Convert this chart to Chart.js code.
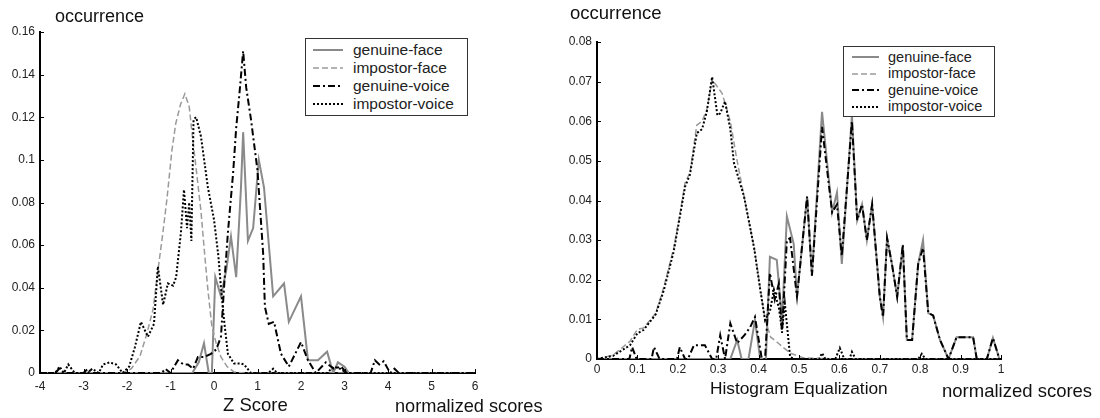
<!DOCTYPE html>
<html><head><meta charset="utf-8">
<script src="https://cdn.jsdelivr.net/npm/chart.js@4/dist/chart.umd.min.js"></script>
<style>
html,body{margin:0;padding:0;background:#fff;}
#wrap{position:relative;width:1100px;height:418px;overflow:hidden;font-family:"Liberation Sans",Arial,sans-serif;}
canvas{position:absolute;top:0;}
.lbl{position:absolute;white-space:nowrap;color:#111;line-height:1;}
.lbox{position:absolute;border:1px solid #333;background:#fff;box-sizing:border-box;}
.row{position:absolute;height:18px;display:flex;align-items:center;white-space:nowrap;color:#222;line-height:1;}
.smp{position:absolute;}
</style></head><body>
<div id="wrap">
<canvas id="c1" width="550" height="418" style="left:0"></canvas>
<canvas id="c2" width="550" height="418" style="left:550px"></canvas>
</div>
<script>
// ---------- data ----------
const seriesNames = ['genuine-face', 'impostor-face', 'genuine-voice', 'impostor-voice'];

// Z Score chart
const zGenFaceX = [-4,-0.5,-0.35,-0.23,-0.12,-0.05,0.03,0.16,0.28,0.39,0.51,0.62,0.67,0.78,0.9,1.03,1.15,1.36,1.61,1.72,2.0,2.16,2.39,2.6,2.74,2.85,3.0,3.1,6];
const zGenFaceY = [0,0,0.005,0.014,0,0,0.045,0.036,0.048,0.064,0.045,0.087,0.113,0.062,0.068,0.1,0.087,0.036,0.042,0.024,0.036,0.006,0.006,0.01,0,0.005,0.003,0,0];
const zImpFaceX = [-4,-2.1,-1.9,-1.7,-1.55,-1.4,-1.29,-1.18,-1.08,-0.97,-0.88,-0.77,-0.67,-0.57,-0.48,-0.4,-0.3,-0.22,-0.14,-0.05,0.05,0.16,0.3,0.46,0.7,6];
const zImpFaceY = [0,0,0.002,0.008,0.018,0.03,0.048,0.065,0.082,0.104,0.117,0.126,0.131,0.125,0.108,0.094,0.076,0.057,0.039,0.022,0.014,0.0075,0.003,0.0005,0,0];
const zGenVoiceX = [-4,-3.65,-3.56,-3.45,-3.0,-2.9,-2.8,-1.2,-1.12,-1.0,-0.83,-0.7,-0.6,-0.48,-0.37,-0.23,-0.07,0.05,0.16,0.23,0.32,0.44,0.51,0.58,0.67,0.74,0.85,1.0,1.13,1.17,1.26,1.38,1.54,1.72,2.0,2.16,2.34,2.57,2.75,2.92,3.05,3.6,3.7,3.8,3.9,4.05,4.15,4.25,6];
const zGenVoiceY = [0,0,0.002,0,0,0.002,0,0,0.002,0,0.006,0.004,0.004,0.002,0.0075,0.0075,0.009,0.011,0.017,0.04,0.066,0.094,0.115,0.13,0.151,0.134,0.119,0.095,0.056,0.031,0.023,0.024,0.009,0.003,0.0145,0.006,0,0.005,0.002,0.003,0,0,0.006,0.004,0.0055,0,0.002,0,0];
const zImpVoiceX = [-4,-3.65,-3.55,-3.45,-3.35,-3.2,-2.9,-2.8,-2.65,-2.55,-2.4,-2.25,-2.1,-1.95,-1.82,-1.68,-1.52,-1.38,-1.29,-1.17,-1.06,-0.94,-0.87,-0.76,-0.69,-0.62,-0.57,-0.52,-0.47,-0.41,-0.3,-0.14,0,0.1,0.16,0.23,0.32,0.46,0.6,0.69,0.85,1.25,1.36,1.45,2.6,2.75,2.9,3.05,6];
const zImpVoiceY = [0,0,0.003,0,0.004,0,0,0.002,0,0.004,0.005,0.004,0,0.003,0.012,0.024,0.017,0.023,0.05,0.032,0.042,0.041,0.045,0.066,0.086,0.068,0.08,0.062,0.119,0.12,0.111,0.087,0.072,0.055,0.04,0.025,0.009,0.0045,0.0045,0.004,0,0,0.002,0,0,0.003,0.002,0,0];
const zXTicks = [-4,-3,-2,-1,0,1,2,3,4,5,6];
const zXTickLabels = ['-4','-3','-2','-1','0','1','2','3','4','5','6'];
const zYTicks = [0,0.02,0.04,0.06,0.08,0.1,0.12,0.14,0.16];
const zYTickLabels = ['0','0.02','0.04','0.06','0.08','0.1','0.12','0.14','0.16'];

// Histogram Equalization chart
const hGenFaceX = [0,0.33,0.347,0.358,0.375,0.391,0.404,0.418,0.428,0.445,0.458,0.47,0.487,0.495,0.52,0.532,0.557,0.582,0.594,0.606,0.631,0.644,0.656,0.668,0.681,0.7,0.708,0.718,0.73,0.743,0.757,0.767,0.78,0.795,0.807,0.82,0.832,0.849,0.857,0.87,0.89,0.931,0.94,0.965,0.98,0.996,1];
const hGenFaceY = [0,0,0.0048,0,0,0.0098,0,0,0.0258,0.025,0.0098,0.036,0.029,0.0157,0.041,0.021,0.0624,0.037,0.042,0.024,0.0615,0.035,0.039,0.03,0.039,0.0157,0.0106,0.0305,0.024,0.0157,0.0288,0.0048,0.0048,0.024,0.03,0.0116,0.011,0.0048,0.003,0,0.0055,0.0055,0,0,0.0053,0,0];
const hImpFaceX = [0,0.04,0.082,0.1,0.115,0.145,0.165,0.19,0.206,0.218,0.23,0.247,0.26,0.272,0.285,0.31,0.33,0.345,0.364,0.389,0.404,0.416,0.43,0.445,0.46,0.478,0.51,0.6,1];
const hImpFaceY = [0,0.001,0.0045,0.0075,0.0078,0.0115,0.018,0.028,0.037,0.0445,0.047,0.059,0.06,0.063,0.0705,0.067,0.06,0.051,0.041,0.028,0.018,0.01,0.0055,0.0043,0.003,0.0015,0.0003,0,0];
const hGenVoiceX = [0,0.08,0.087,0.098,0.135,0.141,0.155,0.198,0.205,0.218,0.225,0.24,0.267,0.285,0.295,0.305,0.317,0.33,0.347,0.365,0.379,0.391,0.408,0.416,0.428,0.44,0.45,0.458,0.47,0.478,0.495,0.52,0.532,0.557,0.582,0.594,0.606,0.631,0.644,0.656,0.668,0.681,0.7,0.708,0.718,0.73,0.743,0.757,0.767,0.78,0.795,0.807,0.82,0.832,0.849,0.857,0.87,0.89,0.931,0.94,0.965,0.98,0.996,1];
const hGenVoiceY = [0,0,0.003,0,0,0.003,0,0,0.003,0,0,0.0035,0.0035,0,0,0.006,0,0.009,0.004,0.006,0.008,0.0106,0,0,0.0217,0.015,0.019,0.0066,0.03,0.0305,0.0157,0.041,0.021,0.0586,0.037,0.039,0.026,0.06,0.035,0.039,0.03,0.039,0.0157,0.0106,0.0305,0.024,0.0157,0.0288,0.0048,0.0048,0.024,0.028,0.0116,0.011,0.0048,0.003,0,0.0055,0.0055,0,0,0.0053,0,0];
const hImpVoiceX = [0,0.04,0.082,0.1,0.115,0.145,0.165,0.19,0.206,0.218,0.23,0.247,0.26,0.272,0.285,0.298,0.305,0.317,0.33,0.339,0.364,0.389,0.404,0.416,0.428,0.438,0.45,0.458,0.465,0.478,0.49,0.55,0.557,0.565,0.59,0.601,0.612,0.625,0.631,0.64,0.795,0.804,0.813,1];
const hImpVoiceY = [0,0.0008,0.0035,0.0065,0.0073,0.0112,0.0172,0.0272,0.0365,0.0435,0.0465,0.057,0.058,0.0625,0.0712,0.0615,0.062,0.065,0.058,0.0495,0.041,0.028,0.0175,0.0098,0.012,0.0175,0.013,0.0073,0.014,0.0005,0,0,0.0015,0,0,0.0028,0,0,0.0018,0,0,0.0013,0,0];
const hXTicks = [0,0.1,0.2,0.3,0.4,0.5,0.6,0.7,0.8,0.9,1];
const hXTickLabels = ['0','0.1','0.2','0.3','0.4','0.5','0.6','0.7','0.8','0.9','1'];
const hYTicks = [0,0.01,0.02,0.03,0.04,0.05,0.06,0.07,0.08];
const hYTickLabels = ['0','0.01','0.02','0.03','0.04','0.05','0.06','0.07','0.08'];

// ---------- styles ----------
const lineStyles = [
  {color:'#8a8a8a', width:2,   dash:[],          order:4},
  {color:'#9a9a9a', width:1.5, dash:[6,3],       order:3},
  {color:'#000000', width:2,   dash:[7,3,2,3],   order:2},
  {color:'#000000', width:2,   dash:[2,2],       order:1}
];
const FONT = '"Liberation Sans", Arial, sans-serif';

function pts(xs, ys){ return xs.map((x,i)=>({x:x, y:ys[i]})); }

const inwardTicks = {
  id:'inwardTicks',
  afterDraw(chart){
    const ctx = chart.ctx, xs = chart.scales.x, ys = chart.scales.y, a = chart.chartArea;
    ctx.save(); ctx.strokeStyle = '#000'; ctx.lineWidth = 1; ctx.setLineDash([]);
    ctx.beginPath();
    xs.ticks.forEach(t=>{ const px = Math.round(xs.getPixelForValue(t.value))+0.5; ctx.moveTo(px, a.bottom); ctx.lineTo(px, a.bottom-4); });
    ys.ticks.forEach(t=>{ const py = Math.round(ys.getPixelForValue(t.value))+0.5; ctx.moveTo(a.left, py); ctx.lineTo(a.left+4, py); });
    ctx.stroke(); ctx.restore();
  }
};

function makeChart(id, series, xT, xL, yT, yL, xMin, xMax, yMax, pad, xH, xPad){
  const datasets = series.map((s,i)=>({
    label: seriesNames[i],
    data: pts(s[0], s[1]),
    borderColor: lineStyles[i].color,
    borderWidth: lineStyles[i].width,
    borderDash: lineStyles[i].dash,
    order: lineStyles[i].order,
    pointRadius: 0,
    tension: 0,
    fill: false
  }));
  return new Chart(document.getElementById(id), {
    type:'line',
    data:{datasets},
    options:{
      responsive:false, animation:false, devicePixelRatio:1,
      layout:{padding:pad},
      plugins:{legend:{display:false}, tooltip:{enabled:false}},
      scales:{
        x:{type:'linear', min:xMin, max:xMax, z:1,
           afterBuildTicks:s=>{ s.ticks = xT.map(v=>({value:v})); },
           afterFit:s=>{ s.height = xH; },
           ticks:{autoSkip:false, maxRotation:0, padding:xPad, color:'#222', font:{family:FONT, size:12},
                  callback:(v)=>xL[xT.indexOf(v)]},
           grid:{display:false, drawTicks:false},
           border:{display:true, color:'#000', width:2}},
        y:{type:'linear', min:0, max:yMax, z:1,
           afterBuildTicks:s=>{ s.ticks = yT.map(v=>({value:v})); },
           afterFit:s=>{ s.width = 40; },
           ticks:{autoSkip:false, padding:5, color:'#222', font:{family:FONT, size:12},
                  callback:(v)=>yL[yT.indexOf(v)]},
           grid:{display:false, drawTicks:false},
           border:{display:true, color:'#000', width:2}}
      }
    },
    plugins:[inwardTicks]
  });
}

makeChart('c1',
  [[zGenFaceX,zGenFaceY],[zImpFaceX,zImpFaceY],[zGenVoiceX,zGenVoiceY],[zImpVoiceX,zImpVoiceY]],
  zXTicks, zXTickLabels, zYTicks, zYTickLabels, -4, 6, 0.16,
  {left:0, top:32, right:75, bottom:0}, 45, 6);
makeChart('c2',
  [[hGenFaceX,hGenFaceY],[hImpFaceX,hImpFaceY],[hGenVoiceX,hGenVoiceY],[hImpVoiceX,hImpVoiceY]],
  hXTicks, hXTickLabels, hYTicks, hYTickLabels, 0, 1, 0.08,
  {left:7, top:42, right:99, bottom:0}, 59, 3);

// ---------- text labels ----------
const wrap = document.getElementById('wrap');
function label(text, left, baseline, fs){
  const d = document.createElement('div');
  d.className = 'lbl'; d.textContent = text;
  d.style.left = left+'px'; d.style.top = (baseline - 0.8465*fs)+'px'; d.style.fontSize = fs+'px';
  wrap.appendChild(d);
}
label('occurrence', 55, 22, 18);
label('Z Score', 223, 412, 18.5);
label('normalized scores', 395, 412, 18.2);
label('occurrence', 570, 20, 18.5);
label('Histogram Equalization', 710, 395, 17.3);
label('normalized scores', 942, 398, 18.5);

function legend(box, rows, sx, sw, tx, fs){
  const b = document.createElement('div');
  b.className = 'lbox';
  b.style.left = box[0]+'px'; b.style.top = box[1]+'px'; b.style.width = box[2]+'px'; b.style.height = box[3]+'px';
  wrap.appendChild(b);
  seriesNames.forEach((name,i)=>{
    const st = lineStyles[i];
    const svgNS = 'http://www.w3.org/2000/svg';
    const svg = document.createElementNS(svgNS,'svg');
    svg.setAttribute('class','smp'); svg.setAttribute('width', sw); svg.setAttribute('height', 6);
    svg.style.left = sx+'px'; svg.style.top = (rows[i]-3)+'px';
    const ln = document.createElementNS(svgNS,'line');
    ln.setAttribute('x1',0); ln.setAttribute('x2',sw); ln.setAttribute('y1',3); ln.setAttribute('y2',3);
    ln.setAttribute('stroke', st.color); ln.setAttribute('stroke-width', st.width);
    if (st.dash.length) ln.setAttribute('stroke-dasharray', st.dash.join(' '));
    svg.appendChild(ln); wrap.appendChild(svg);
    const r = document.createElement('div');
    r.className = 'row'; r.textContent = name;
    r.style.left = tx+'px'; r.style.top = (rows[i]-9)+'px'; r.style.fontSize = fs+'px';
    wrap.appendChild(r);
  });
}
legend([305,38,163,78], [50,68,86,104], 313, 30, 353, 15.5);
legend([843,46,152,71], [57,73.5,90,106.5], 852, 27, 888, 14.5);
</script>
</body></html>
